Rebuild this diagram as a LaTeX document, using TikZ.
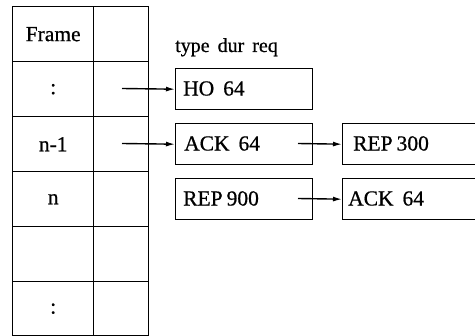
\documentclass[tikz,border=0pt]{standalone}
\usepackage{fontspec}
\setmainfont[FakeBold=0.7]{Liberation Serif}
\usetikzlibrary{arrows.meta}
\begin{document}
\begin{tikzpicture}[x=1pt,y=-1pt,
  lw/.style={line width=1.4pt},
  cellL/.style={draw,lw,minimum width=81pt,minimum height=55pt,inner sep=0pt,anchor=north west},
  cellR/.style={draw,lw,minimum width=55pt,minimum height=55pt,inner sep=0pt,anchor=north west},
  rec/.style={draw,lw,minimum height=41pt,inner sep=0pt,anchor=north west},
  lbl/.style={inner sep=0pt,anchor=base west,font=\fontsize{21.5}{24}\selectfont},
  arr/.style={lw,-{Latex[length=9pt,width=5pt]}},
  font=\fontsize{21.5}{24}\selectfont]
\useasboundingbox (0,0) rectangle (475,336);
% table
\node[cellL] (c1) at (12,6) {Frame};
\node[cellL] (c2) at (12,61) {:};
\node[cellL] (c3) at (12,116) {n-1};
\node[cellL] (c4) at (12,171) {n};
\node[cellL] (c5) at (12,226) {};
\node[cellL,minimum height=54pt] (c6) at (12,281) {:};
\node[cellR] (r1) at (93,6) {};
\node[cellR] (r2) at (93,61) {};
\node[cellR] (r3) at (93,116) {};
\node[cellR] (r4) at (93,171) {};
\node[cellR] (r5) at (93,226) {};
\node[cellR,minimum height=54pt] (r6) at (93,281) {};
% header
\node[lbl,font=\fontsize{20}{24}\selectfont] (hdr) at (175,52) {type\hspace{8pt}dur\hspace{8pt}req};
% boxes
\node[rec,minimum width=137pt] (ho) at (175,68) {};
\node[lbl,anchor=west] (hot) at (183,88.5) {HO\hspace{9pt}64};
\node[rec,minimum width=137pt] (ack1) at (175,123) {};
\node[lbl,anchor=west] (ack1t) at (184,143.5) {ACK\hspace{9pt}64};
\node[rec,minimum width=137pt] (rep9) at (175,178) {};
\node[lbl,anchor=west] (rep9t) at (183,198.5) {REP\hspace{4pt}900};
\node[rec,minimum width=145pt] (rep3) at (342,123) {};
\node[lbl,anchor=west] (rep3t) at (353,143.5) {REP\hspace{4pt}300};
\node[rec,minimum width=145pt] (ack2) at (342,178) {};
\node[lbl,anchor=west] (ack2t) at (348,198.5) {ACK\hspace{9pt}64};
% arrows
\coordinate (s2) at (122,88.5);
\coordinate (s3) at (122,143.5);
\coordinate (sa) at (298,143.5);
\coordinate (sb) at (298,198.5);
\draw[arr] (s2) -- (ho.west);
\draw[arr] (s3) -- (ack1.west);
\draw[arr] (sa) -- (rep3.west);
\draw[arr] (sb) -- (ack2.west);
\end{tikzpicture}
\end{document}
